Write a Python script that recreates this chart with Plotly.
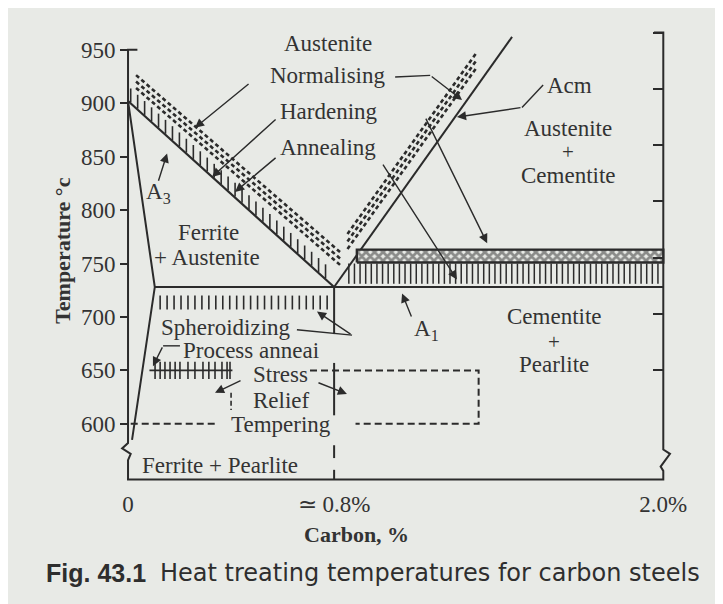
import numpy as np
import plotly.graph_objects as go

# ---------------- data ----------------
x_ticks = [0, 0.77, 2.0]
x_tick_text = ["0", "≃ 0.8%", "2.0%"]
y_ticks = [600, 650, 700, 750, 800, 850, 900, 950]
y_ticks_right = [650, 700, 750, 800, 850, 900, 950]

# A3 line (austenite / ferrite + austenite)
a3_x = [0.0, 0.77]
a3_T = [902, 728]
# ferrite solvus
fs_x = [0.0, 0.10, 0.015]
fs_T = [902, 728, 585]
# A1 line
a1_x = [0.10, 2.0]
a1_T = [728, 728]
# Acm line
acm_x = [0.77, 1.435]
acm_T = [728, 962]
# eutectoid vertical (solid part + dashed parts)
eut_x = 0.77
eut_solid_T = [728, 684]
eut_dash_T = [[657, 608], [580, 568], [557, 548]]

# frame with broken-axis zigzags
frame_x = [0.035, 0, 0, -0.022, 0.01, 0, 0, 2.0, 2.0, 1.99, 2.025, 2.0, 2.0, 1.965]
frame_T = [950, 950, 582, 577, 572, 566, 548, 548, 556, 560, 572, 576, 966, 966]

# normalising bands (offsets above A3 / Acm lines)
norm_left_x = [0.03, 0.80]
norm_left_off = [19, 25, 31]
norm_right_x = [0.82, 1.30]
norm_right_off = [18, 25, 32]

# hardening band (cross hatched) and annealing band (hatched) above A1
hard_x = [0.855, 2.0]
hard_T = [751, 763]
ann_x = [0.825, 2.0]
ann_T = [731, 750]
# hatch above A3 line
a3_hatch_x = [0.01, 0.76]
a3_hatch_h = 14
# spheroidizing hatch under A1
sph_x = [0.12, 0.76]
sph_T = [707, 720]
# process anneal
pa_T = 650
pa_x = [0.08, 0.39]
pa_marks = [0.101, 0.120, 0.138, 0.157, 0.176, 0.194, 0.224, 0.250,
            0.280, 0.302, 0.325, 0.351, 0.370, 0.381]
# stress relief box and tempering line
sr_x = [0.68, 1.31, 1.31, 0.85]
sr_T = [650, 650, 600, 600]
temp_x = [0.01, 0.335]
temp_T = [600, 600]
small_dash_x = [0.385, 0.385]
small_dash_T = [629, 613]

# arrows: (tail_x, tail_T, head_x, head_T)
arrows = [
    (0.456, 919, 0.250, 877),    # normalising (left band)
    (1.129, 926, 1.248, 903),    # normalising (right band)
    (0.557, 886, 0.314, 831),    # hardening (left)
    (0.557, 850, 0.400, 817),    # annealing (left)
    (0.112, 826, 0.146, 853),    # A3
    (1.472, 896, 1.229, 887),    # Acm
    (1.110, 887, 1.342, 769),    # hardening (right)
    (0.949, 844, 1.229, 735),    # annealing (right)
    (1.061, 699, 1.024, 722),    # A1
    (0.837, 683, 0.706, 705),    # spheroidizing
    (0.131, 673, 0.093, 654),    # process anneal
    (0.426, 641, 0.325, 629),    # stress relief left
    (0.706, 639, 0.818, 628),    # stress relief right
]
# leader lines without heads
leaders = [
    ([0.998, 1.129], [924.5, 926]),   # Normalising -> bend
    ([1.551, 1.472], [917, 896]),     # Acm -> bend
    ([0.631, 0.837], [688, 683]),     # Spheroidizing -> bend
    ([0.194, 0.131], [673, 673]),     # Process anneal -> bend
]

# text labels (x, T, text, xanchor, size)
labels = [
    (0.747, 956, "Austenite", "center", 23),
    (0.744, 926, "Normalising", "center", 23),
    (0.751, 892, "Hardening", "center", 23),
    (0.747, 859, "Annealing", "center", 23),
    (1.558, 917, "Acm", "left", 23),
    (1.644, 876, "Austenite", "center", 23),
    (1.644, 854, "+", "center", 21),
    (1.644, 832, "Cementite", "center", 23),
    (0.115, 816, "A<sub>3</sub>", "center", 23),
    (0.299, 779, "Ferrite", "center", 23),
    (0.295, 756, "+ Austenite", "center", 23),
    (0.366, 690, "Spheroidizing", "center", 23),
    (0.460, 669, "Process anneai", "center", 23),
    (0.568, 646, "Stress", "center", 23),
    (0.572, 622, "Relief", "center", 23),
    (0.572, 599, "Tempering", "center", 23),
    (0.344, 561, "Ferrite + Pearlite", "center", 23),
    (1.592, 700, "Cementite", "center", 23),
    (1.592, 677, "+", "center", 21),
    (1.592, 656, "Pearlite", "center", 23),
    (1.115, 688, "A<sub>1</sub>", "center", 23),
]

# ---------------- styling ----------------
BG = "#e8eae6"
INK = "#2b2b2b"
TXT = "#333333"
SERIF = "Liberation Serif"

fig = go.Figure()


def add_line(xs, ys, width=2.0, dash=None, color=INK):
    fig.add_trace(go.Scatter(x=xs, y=ys, mode="lines", hoverinfo="skip",
                             line=dict(color=color, width=width, dash=dash)))


def segs(pairs):
    xs, ys = [], []
    for (x0, y0, x1, y1) in pairs:
        xs += [x0, x1, None]
        ys += [y0, y1, None]
    return xs, ys


def line_T(xs_line, Ts_line, x):
    return np.interp(x, xs_line, Ts_line)


# frame
add_line(frame_x, frame_T, 2.0)
# phase lines
add_line(a3_x, a3_T, 2.2)
add_line(fs_x, fs_T, 2.0)
add_line(a1_x, a1_T, 2.0)
add_line(acm_x, acm_T, 2.0)
add_line([eut_x, eut_x], eut_solid_T, 2.0)
xs, ys = segs([(eut_x, a, eut_x, b) for a, b in eut_dash_T])
add_line(xs, ys, 2.0)

# normalising dashed bands
for off in norm_left_off:
    xx = np.array(norm_left_x)
    add_line(xx, line_T(a3_x, a3_T, xx) + off, 2.6, dash="4px,3px")
acm_slope = (acm_T[1] - acm_T[0]) / (acm_x[1] - acm_x[0])
for off in norm_right_off:
    xx = np.array(norm_right_x)
    add_line(xx, acm_T[0] + acm_slope * (xx - acm_x[0]) + off, 2.6, dash="4px,3px")

# hatch above A3 line
hx = np.arange(a3_hatch_x[0], a3_hatch_x[1], 0.026)
base = line_T(a3_x, a3_T, hx)
xs, ys = segs([(x, b + 1, x, b + a3_hatch_h) for x, b in zip(hx, base)])
add_line(xs, ys, 1.6)

# hardening crosshatched band
fig.add_trace(go.Scatter(
    x=[hard_x[0], hard_x[1], hard_x[1], hard_x[0], hard_x[0]],
    y=[hard_T[0], hard_T[0], hard_T[1], hard_T[1], hard_T[0]],
    mode="lines", fill="toself", hoverinfo="skip",
    fillpattern=dict(shape="x", size=6, solidity=0.7, fgcolor=INK, bgcolor=BG),
    line=dict(color=INK, width=2.4)))

# annealing hatch under the band
ax_ = np.arange(ann_x[0], ann_x[1], 0.021)
xs, ys = segs([(x, ann_T[0], x, ann_T[1]) for x in ax_])
add_line(xs, ys, 1.5)

# spheroidizing hatch
sx = np.arange(sph_x[0], sph_x[1], 0.026)
xs, ys = segs([(x, sph_T[0], x, sph_T[1]) for x in sx])
add_line(xs, ys, 1.6)

# process anneal
add_line(pa_x, [pa_T, pa_T], 1.6)
xs, ys = segs([(x, pa_T - 8, x, pa_T + 8) for x in pa_marks])
add_line(xs, ys, 1.6)

# stress relief box, tempering
add_line(sr_x, sr_T, 2.0, dash="7px,4px")
add_line(temp_x, temp_T, 2.0, dash="7px,4px")
add_line(small_dash_x, small_dash_T, 1.6, dash="5px,3px")

# leader lines
for lx, ly in leaders:
    add_line(lx, ly, 1.4)

# invisible trace for the right axis
fig.add_trace(go.Scatter(x=[1.0], y=[700], yaxis="y2", mode="markers",
                         marker=dict(opacity=0), hoverinfo="skip"))

annotations = []
for tx, tT, hx_, hT in arrows:
    annotations.append(dict(x=hx_, y=hT, ax=tx, ay=tT, xref="x", yref="y",
                            axref="x", ayref="y", text="", showarrow=True,
                            arrowhead=2, arrowsize=1.3, arrowwidth=1.4,
                            arrowcolor=INK, standoff=0))
for lx, lT, txt, anc, sz in labels:
    annotations.append(dict(x=lx, y=lT, xref="x", yref="y", text=txt,
                            showarrow=False, xanchor=anc, yanchor="middle",
                            font=dict(family=SERIF, size=sz, color=TXT)))

# axis titles and caption
annotations += [
    dict(x=0.426, y=-0.101, xref="paper", yref="paper", text="<b>Carbon, %</b>",
         showarrow=False, xanchor="center", yanchor="middle",
         font=dict(family=SERIF, size=22, color=TXT)),
    dict(x=-0.103, y=0.512, xref="paper", yref="paper", text="<b>Temperature °c</b>",
         showarrow=False, textangle=-90, xanchor="center", yanchor="middle",
         font=dict(family=SERIF, size=22, color=TXT)),
    dict(x=-0.138, y=-0.183, xref="paper", yref="paper", text="<b>Fig. 43.1</b>",
         showarrow=False, xanchor="left", yanchor="middle",
         font=dict(family="Liberation Sans", size=25, color="#2e2e2e")),
    dict(x=0.0687, y=-0.183, xref="paper", yref="paper",
         text="Heat treating temperatures for carbon steels",
         showarrow=False, xanchor="left", yanchor="middle",
         font=dict(family="DejaVu Sans", size=24, color="#2e2e2e")),
]

fig.update_layout(
    width=723, height=604,
    margin=dict(l=112, r=57, t=15, b=124),
    paper_bgcolor=BG, plot_bgcolor=BG,
    showlegend=False,
    font=dict(family=SERIF, size=23, color=TXT),
    annotations=annotations,
    xaxis=dict(range=[-0.03, 2.04], tickvals=x_ticks, ticktext=x_tick_text,
               showgrid=False, zeroline=False, showline=False, ticks="",
               tickfont=dict(family=SERIF, size=23, color=TXT)),
    yaxis=dict(range=[540, 975], anchor="free", position=0.01445,
               tickvals=y_ticks, ticks="outside", ticklen=8, tickwidth=2,
               tickcolor=INK, showgrid=False, zeroline=False, showline=False,
               tickfont=dict(family=SERIF, size=23, color=TXT)),
    yaxis2=dict(range=[544.9, 958.9], overlaying="y", side="right",
                anchor="free", position=0.9805, tickvals=y_ticks_right,
                ticks="inside", ticklen=10, tickwidth=2, tickcolor=INK,
                showticklabels=False, showgrid=False, zeroline=False,
                showline=False),
)

fig.write_html("out.html")
